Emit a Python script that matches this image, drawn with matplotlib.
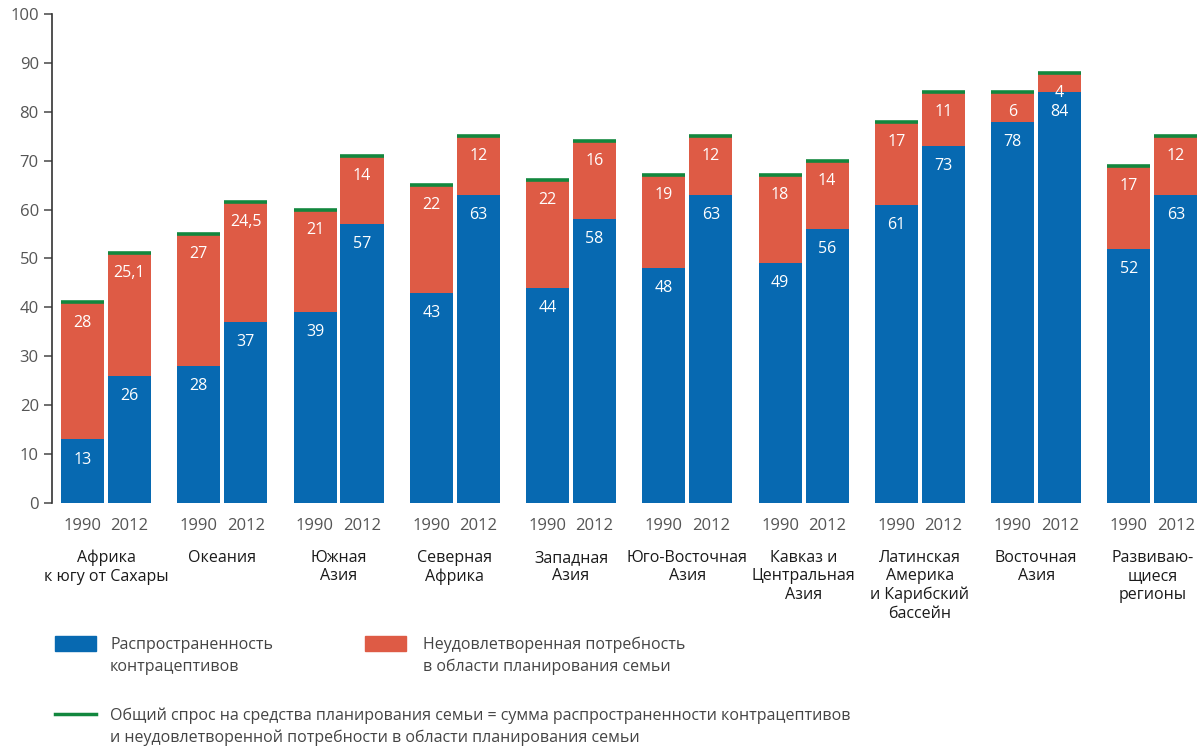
import matplotlib.pyplot as plt
import numpy as np

plt.rcParams['font.family'] = ['Open Sans', 'DejaVu Sans']

regions = ['Африка\nк югу от Сахары', 'Океания', 'Южная\nАзия', 'Северная\nАфрика',
           'Западная\nАзия', 'Юго-Восточная\nАзия', 'Кавказ и\nЦентральная\nАзия',
           'Латинская\nАмерика\nи Карибский\nбассейн', 'Восточная\nАзия',
           'Развиваю-\nщиеся\nрегионы']
years = ['1990', '2012']

prev_1990 = [13, 28, 39, 43, 44, 48, 49, 61, 78, 52]
unmet_1990 = [28, 27, 21, 22, 22, 19, 18, 17, 6, 17]
prev_2012 = [26, 37, 57, 63, 58, 63, 56, 73, 84, 63]
unmet_2012 = [25.1, 24.5, 14, 12, 16, 12, 14, 11, 4, 12]
unmet_2012_txt = ['25,1', '24,5', '14', '12', '16', '12', '14', '11', '4', '12']

blue = '#0769b1'
red = '#de5b45'
green = '#12873e'
grey = '#555555'

fig = plt.figure(figsize=(12.01, 7.47), dpi=100)
ax = fig.add_axes([0.0433, 0.3266, 0.9550, 0.6548])

x = np.arange(len(regions))
w = 0.37
off = 0.202

for shift, prev, unmet, unmet_txt in [(-off, prev_1990, unmet_1990, [str(v) for v in unmet_1990]),
                                      (off, prev_2012, unmet_2012, unmet_2012_txt)]:
    xs = x + shift
    ax.bar(xs, prev, w, color=blue)
    ax.bar(xs, unmet, w, bottom=prev, color=red)
    tot = np.array(prev) + np.array(unmet)
    ax.hlines(tot, xs - w / 2, xs + w / 2, color=green, lw=2.6)
    for xi, p, u, ut in zip(xs, prev, tot, unmet_txt):
        ax.annotate(str(p), (xi, p), xytext=(0, -14.5), textcoords='offset points',
                    ha='center', va='center', color='white', fontsize=11.5)
        ax.annotate(ut, (xi, u), xytext=(0, -14.5), textcoords='offset points',
                    ha='center', va='center', color='white', fontsize=11.5)

ax.set_xlim(-0.464, 9.40)
ax.set_ylim(0, 100)
ax.set_yticks(range(0, 101, 10))
ax.tick_params(axis='y', colors=grey, labelsize=12, length=6, width=1.2, direction='out')
ax.tick_params(axis='x', length=0)
ax.set_xticks([])
for s in ['top', 'right', 'bottom']:
    ax.spines[s].set_visible(False)
ax.spines['left'].set_color('#333333')
ax.spines['left'].set_linewidth(1.2)

# year and region labels under the bars
for i in x:
    for shift, yr in zip([-off, off], years):
        ax.text(i + shift, -4.6, yr, ha='center', va='center', color=grey, fontsize=12)
    ax.text(i, -9.6, regions[i], ha='center', va='top', color='#1a1a1a', fontsize=11.5,
            linespacing=1.2)

# legend
fig.patches.append(plt.Rectangle((55 / 1201, 1 - 651 / 747), 41 / 1201, 15 / 747,
                                 transform=fig.transFigure, color=blue))
fig.text(110 / 1201, 1 - 656 / 747, 'Распространенность\nконтрацептивов', fontsize=11.5,
         color='#444444', va='center', linespacing=1.45)
fig.patches.append(plt.Rectangle((365 / 1201, 1 - 651 / 747), 41 / 1201, 15 / 747,
                                 transform=fig.transFigure, color=red))
fig.text(423 / 1201, 1 - 656 / 747, 'Неудовлетворенная потребность\nв области планирования семьи',
         fontsize=11.5, color='#444444', va='center', linespacing=1.45)
fig.lines.append(plt.Line2D([55 / 1201, 96 / 1201], [1 - 714 / 747, 1 - 714 / 747],
                            transform=fig.transFigure, color=green, lw=2.5))
fig.text(110 / 1201, 1 - 727 / 747,
         'Общий спрос на средства планирования семьи = сумма распространенности контрацептивов\n'
         'и неудовлетворенной потребности в области планирования семьи',
         fontsize=11.5, color='#444444', va='center', linespacing=1.45)

fig.savefig('out.png', dpi=100)
